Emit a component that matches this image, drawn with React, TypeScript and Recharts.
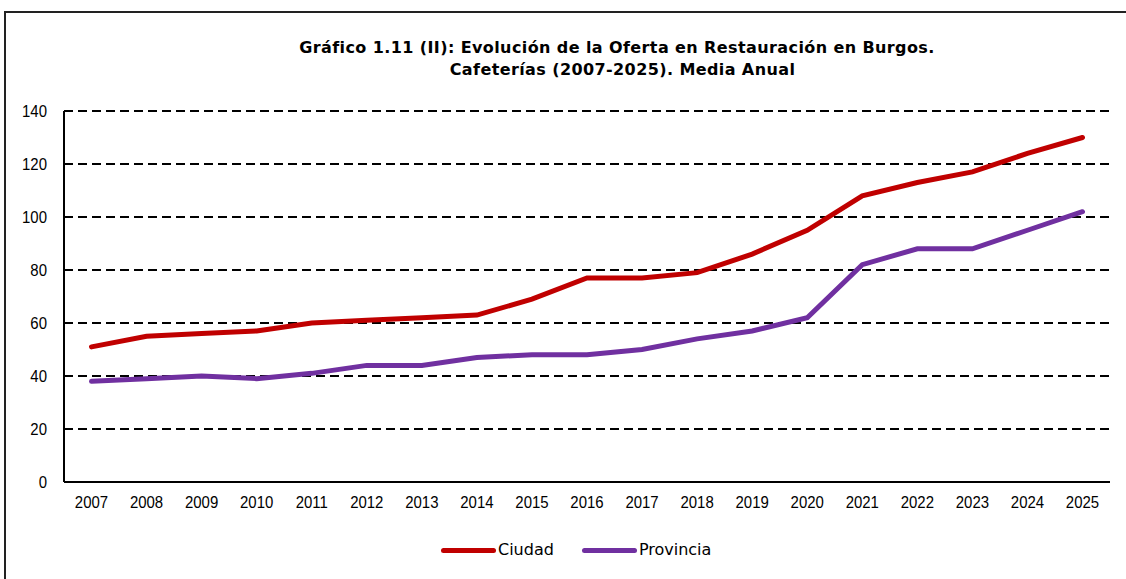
import React from 'react';
import { LineChart, Line, XAxis, YAxis, CartesianGrid } from 'recharts';

const YEARS = ['2007', '2008', '2009', '2010', '2011', '2012', '2013', '2014', '2015', '2016', '2017', '2018', '2019', '2020', '2021', '2022', '2023', '2024', '2025'];
const CIUDAD = [51, 55, 56, 57, 60, 61, 62, 63, 69, 77, 77, 79, 86, 95, 108, 113, 117, 124, 130];
const PROVINCIA = [38, 39, 40, 39, 41, 44, 44, 47, 48, 48, 50, 54, 57, 62, 82, 88, 88, 95, 102];
const Y_TICKS = [0, 20, 40, 60, 80, 100, 120, 140];

const SERIES = [
  { key: 'ciudad', name: 'Ciudad', color: '#C00000' },
  { key: 'provincia', name: 'Provincia', color: '#7030A0' },
];

const data = YEARS.map((year, i) => ({ year, ciudad: CIUDAD[i], provincia: PROVINCIA[i] }));

const TICK_FONT = "'Liberation Sans', Arial, sans-serif";
const TEXT_FONT = "'DejaVu Sans', Verdana, sans-serif";

// narrow-looking tick labels, like the Arial Narrow of the original
const XTick = (props: any) => {
  const { x, y, payload } = props;
  return (
    <text transform={`translate(${x},${y}) scale(0.88,1)`} textAnchor="middle" dy="0.71em" fill="#000" fontSize={17} fontFamily={TICK_FONT}>
      {payload.value}
    </text>
  );
};

const YTick = (props: any) => {
  const { x, y, payload } = props;
  return (
    <text transform={`translate(${x},${y}) scale(0.88,1)`} textAnchor="end" dy="0.355em" fill="#000" fontSize={17} fontFamily={TICK_FONT}>
      {payload.value}
    </text>
  );
};

export default function App() {
  return (
    <div style={{ position: 'absolute', left: 0, top: 0, width: 1126, height: 579, overflow: 'hidden', background: '#fff' }}>
      <div style={{ position: 'absolute', top: 37, left: 0, width: 1126, textAlign: 'center', fontFamily: TEXT_FONT, fontWeight: 'bold', fontSize: 16, letterSpacing: 0.4, lineHeight: '22px', color: '#000' }}>
        <div style={{ paddingLeft: 108 }}>Gráfico 1.11 (II): Evolución de la Oferta en Restauración en Burgos.</div>
        <div style={{ paddingLeft: 119 }}>Cafeterías (2007-2025). Media Anual</div>
      </div>

      <div style={{ position: 'absolute', left: 0, top: 0 }}>
        <LineChart width={1126} height={579} data={data} margin={{ top: 111, right: 16, left: 0, bottom: 67 }}>
          <CartesianGrid horizontal vertical={false} stroke="#000" strokeWidth={2} strokeDasharray="9 5" />
          <XAxis
            dataKey="year"
            height={30}
            padding={{ left: 27.5, right: 27.5 }}
            axisLine={{ stroke: '#000', strokeWidth: 2 }}
            tickLine={false}
            tickSize={0}
            tickMargin={14}
            interval={0}
            tick={<XTick />}
          />
          <YAxis
            width={64}
            domain={[0, 140]}
            ticks={Y_TICKS}
            axisLine={{ stroke: '#000', strokeWidth: 2 }}
            tickLine={false}
            tickSize={0}
            tickMargin={17}
            tick={<YTick />}
          />
          <YAxis
            yAxisId="right"
            orientation="right"
            width={0}
            domain={[0, 140]}
            tick={false}
            tickLine={false}
            axisLine={{ stroke: '#000', strokeWidth: 2 }}
          />
          {SERIES.map(s => (
            <Line
              key={s.key}
              type="linear"
              dataKey={s.key}
              name={s.name}
              stroke={s.color}
              strokeWidth={5}
              strokeLinecap="round"
              dot={false}
              activeDot={false}
              isAnimationActive={false}
            />
          ))}
        </LineChart>
      </div>

      <div style={{ position: 'absolute', top: 539, left: 441, display: 'flex', fontFamily: TEXT_FONT, fontSize: 16, color: '#000' }}>
        {SERIES.map(s => (
          <div key={s.key} style={{ display: 'flex', alignItems: 'center', marginRight: 28 }}>
            <span style={{ display: 'inline-block', width: 55, height: 5, background: s.color, borderRadius: 3, marginRight: 2 }} />
            <span style={{ lineHeight: '22px' }}>{s.name}</span>
          </div>
        ))}
      </div>

      {/* outer frame, runs off the right and bottom edges */}
      <div style={{ position: 'absolute', left: 4, top: 11, width: 1200, height: 2, background: '#222', zIndex: 2 }} />
      <div style={{ position: 'absolute', left: 4, top: 11, width: 2, height: 700, background: '#222', zIndex: 2 }} />
    </div>
  );
}
